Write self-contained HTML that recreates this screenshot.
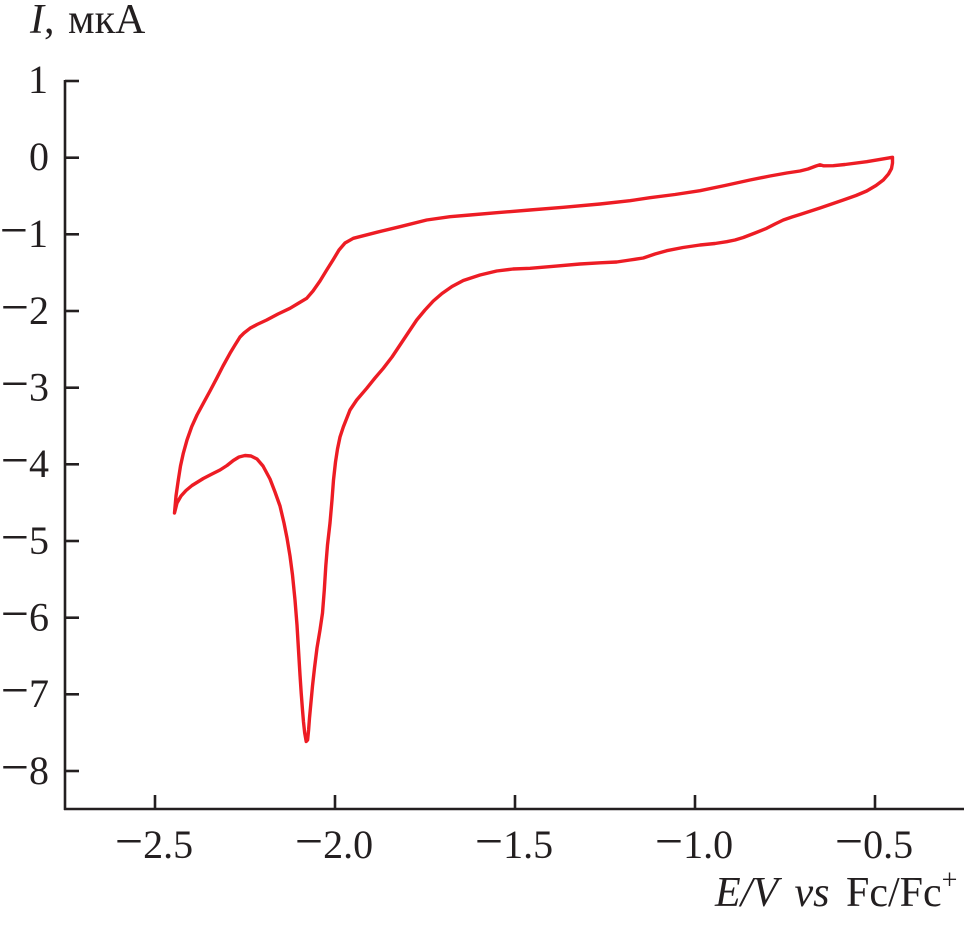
<!DOCTYPE html>
<html>
<head>
<meta charset="utf-8">
<style>
  html, body { margin: 0; padding: 0; background: #ffffff; }
  svg { display: block; }
  text { font-family: "Liberation Serif", "Noto Serif CJK SC", serif; fill: #231f20; }
</style>
</head>
<body>
<svg width="964" height="935" viewBox="0 0 964 935" xmlns="http://www.w3.org/2000/svg">
  <!-- Axes -->
  <g stroke="#231f20" stroke-width="2.6" fill="none" stroke-linecap="butt">
    <line x1="65" y1="80" x2="65" y2="810"/>
    <line x1="64" y1="809" x2="964" y2="809"/>
    <!-- y ticks -->
    <line x1="65" y1="81" x2="79" y2="81"/>
    <line x1="65" y1="157.7" x2="79" y2="157.7"/>
    <line x1="65" y1="234.3" x2="79" y2="234.3"/>
    <line x1="65" y1="311" x2="79" y2="311"/>
    <line x1="65" y1="387.7" x2="79" y2="387.7"/>
    <line x1="65" y1="464.3" x2="79" y2="464.3"/>
    <line x1="65" y1="541" x2="79" y2="541"/>
    <line x1="65" y1="617.7" x2="79" y2="617.7"/>
    <line x1="65" y1="694.3" x2="79" y2="694.3"/>
    <line x1="65" y1="771" x2="79" y2="771"/>
    <!-- x ticks -->
    <line x1="155" y1="795" x2="155" y2="809"/>
    <line x1="335" y1="795" x2="335" y2="809"/>
    <line x1="515" y1="795" x2="515" y2="809"/>
    <line x1="695" y1="795" x2="695" y2="809"/>
    <line x1="875" y1="795" x2="875" y2="809"/>
  </g>

  <!-- Y tick labels -->
  <g font-size="40" text-anchor="end">
    <text x="48" y="93">1</text>
    <text x="49" y="170">0</text>
    <text x="48" y="247"><tspan font-size="50">−</tspan>1</text>
    <text x="49" y="324"><tspan font-size="50">−</tspan>2</text>
    <text x="49" y="400.5"><tspan font-size="50">−</tspan>3</text>
    <text x="49" y="477"><tspan font-size="50">−</tspan>4</text>
    <text x="49" y="554"><tspan font-size="50">−</tspan>5</text>
    <text x="49" y="630.5"><tspan font-size="50">−</tspan>6</text>
    <text x="49" y="707"><tspan font-size="50">−</tspan>7</text>
    <text x="49" y="784"><tspan font-size="50">−</tspan>8</text>
  </g>

  <!-- X tick labels -->
  <g font-size="40" text-anchor="middle">
    <text x="154" y="858"><tspan font-size="50">−</tspan>2.5</text>
    <text x="334" y="858"><tspan font-size="50">−</tspan>2.0</text>
    <text x="514" y="858"><tspan font-size="50">−</tspan>1.5</text>
    <text x="694" y="858"><tspan font-size="50">−</tspan>1.0</text>
    <text x="874" y="858"><tspan font-size="50">−</tspan>0.5</text>
  </g>

  <!-- Y axis title -->
  <text x="30" y="33" font-size="42" word-spacing="3"><tspan font-style="italic">I</tspan>, мкА</text>

  <!-- X axis title -->
  <text y="906" font-size="42" word-spacing="6">
    <tspan x="715" font-style="italic">E</tspan><tspan font-style="italic">/</tspan><tspan font-style="italic">V</tspan> <tspan font-style="italic">vs</tspan> Fc/Fc<tspan font-size="28" dy="-17">+</tspan>
  </text>

  <!-- CV curve -->
  <polyline fill="none" stroke="#ed1c24" stroke-width="3.4" stroke-linejoin="round" stroke-linecap="round"
    points="892.5,157.3 866.7,161.7 845,164.5 833.3,165.7 823.3,165.8 820,164.8 816,166 808,169 800,171 786.7,173 770,176 750,180 725,185.5 700,190.7 675,194.5 650,197.7 630,200.7 600,204 563.3,207.3 530,210 496.7,212.7 470,215 450,216.7 426.7,220 400,226.7 376.7,232.3 353.3,238.3 345,243 339,250 333,260 326.7,270 320,281 313,291 306.7,298.3 298,303.5 290,308.3 278,314 266.7,320 257,324.5 250,328.3 244,333 240,337 235,345 230,353.3 223,366 216.7,378.3 210,391 203.3,403.3 197,415 191.7,426.7 187,440 183.3,453.3 180.5,466 178.3,480 176,496 174.5,513 177,503 181,496 186,490.5 192,485.5 203.3,478.5 212,474 220,470 227,465.5 233.3,460.5 239,457 245,455.5 251,456 257,459 263,466 270,479 275,492 280,506 284,523 287,538 290,556 292.5,575 295,600 297,625 298.5,650 300,675 301.2,693 302.5,710 303.5,722 304.7,733 306.2,741.5 307.6,740 308.6,730 309.5,718 311,702 312.5,686 314.5,668 317,648 320,630 322.5,613 324.3,590 325.8,566 327.5,545 330,523 332,500 333.5,480 335.5,462 337.5,449 340,437 343.3,427 350,410 356.7,400 366.7,388.3 375,378 383.3,368.3 392,357 400,345 408,333 416.7,320 425,310 433.3,301 442,293.5 452,286.5 463.3,280.5 480,275 496.7,271 513,269 530,268.3 555,266.2 580,264 600,262.8 616.7,262 630,260 643.3,258 655,254 666.7,250.7 683,247.5 700,245 715,243.5 726.7,241.7 735,240 743.3,237.5 755,233 766.7,228.3 775,224 783.3,220 792,217 800,214.5 820,208 843.3,200 856,195.5 866.7,191 876,185.5 883.3,180 888.5,174 891.5,168.5 892.5,163 892.5,157.3"/>
</svg>
</body>
</html>
